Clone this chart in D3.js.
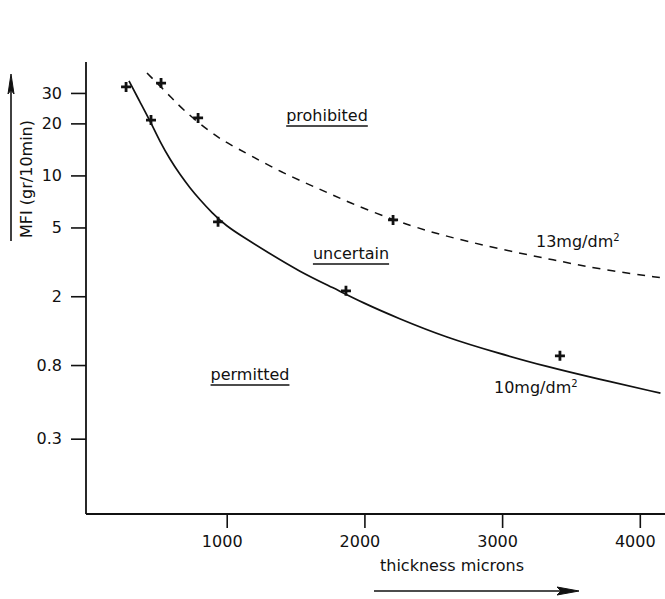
<!DOCTYPE html>
<html>
<head>
<meta charset="utf-8">
<script src="https://cdn.jsdelivr.net/npm/d3@7"></script>
<style>
  html, body { margin: 0; padding: 0; background: #fff; }
  svg { display: block; }
  text { font-family: "DejaVu Sans", sans-serif; fill: #111; }
</style>
</head>
<body>
<script>
// Melt flow index limits versus sheet thickness
const yTicks = [0.3, 0.8, 2, 5, 10, 20, 30];
const yTickLabels = ["0.3", "0.8", "2", "5", "10", "20", "30"];
const xTicks = [1000, 2000, 3000, 4000];
const xTickLabels = ["1000", "2000", "3000", "4000"];

// 10 mg/dm² limit curve (solid)
const limit10Thickness = [290, 370, 443, 516, 588, 661, 733, 806, 893, 995, 1118, 1293, 1532, 1772, 1990, 2237, 2600, 2963, 3326, 3689, 4150];
const limit10MFI = [35.2, 26.6, 20.7, 15.6, 12.4, 10.1, 8.47, 7.22, 6.07, 5.11, 4.41, 3.61, 2.77, 2.24, 1.83, 1.50, 1.15, 0.942, 0.782, 0.667, 0.55];

// 13 mg/dm² limit curve (dashed)
const limit13Thickness = [421, 566, 683, 879, 1002, 1169, 1409, 1656, 1895, 2208, 2455, 2643, 3007, 3370, 3733, 4170];
const limit13MFI = [39.1, 30.0, 23.9, 17.8, 15.4, 13.1, 10.3, 8.47, 6.93, 5.53, 4.78, 4.35, 3.71, 3.25, 2.84, 2.55];

// measured points
const points10Thickness = [269, 450, 937, 1866, 3420];
const points10MFI = [32.5, 20.9, 5.39, 2.15, 0.905];
const points13Thickness = [523, 792, 2208];
const points13MFI = [34.2, 21.5, 5.53];

const W = 665, H = 599;
const plotLeft = 86, plotRight = 665, plotTop = 62, plotBottom = 514;

const svg = d3.select("body").append("svg")
  .attr("width", W).attr("height", H);

const x = d3.scaleLinear().domain([-22, 4183]).range([plotLeft, plotRight]);
const y = d3.scaleLog().domain([0.110, 45.3]).range([plotBottom, plotTop]);

const ink = "#111";

// axes lines
svg.append("line").attr("x1", plotLeft).attr("x2", plotLeft).attr("y1", plotTop).attr("y2", plotBottom)
  .attr("stroke", ink).attr("stroke-width", 1.8);
svg.append("line").attr("x1", plotLeft).attr("x2", plotRight).attr("y1", plotBottom).attr("y2", plotBottom)
  .attr("stroke", ink).attr("stroke-width", 1.8);

// y ticks
const yAxis = d3.axisLeft(y).tickValues(yTicks)
  .tickFormat((d, i) => yTickLabels[i]).tickSize(15).tickPadding(9);
const gy = svg.append("g").attr("transform", `translate(${plotLeft},0)`).call(yAxis);
gy.select(".domain").remove();
gy.selectAll(".tick line").attr("stroke", ink).attr("stroke-width", 1.6);
gy.selectAll(".tick text").attr("font-size", 16).attr("font-family", "DejaVu Sans").attr("fill", ink);

// x ticks
const xAxis = d3.axisBottom(x).tickValues(xTicks)
  .tickFormat((d, i) => xTickLabels[i]).tickSize(14).tickPadding(8);
const gx = svg.append("g").attr("transform", `translate(0,${plotBottom})`).call(xAxis);
gx.select(".domain").remove();
gx.selectAll(".tick line").attr("stroke", ink).attr("stroke-width", 1.6);
gx.selectAll(".tick text").attr("font-size", 16).attr("font-family", "DejaVu Sans").attr("fill", ink).attr("dx", -5);

// curves
const line = d3.line().x(d => x(d[0])).y(d => y(d[1])).curve(d3.curveBasis);
svg.append("path")
  .datum(d3.zip(limit10Thickness, limit10MFI))
  .attr("d", line).attr("fill", "none").attr("stroke", ink).attr("stroke-width", 1.7);
svg.append("path")
  .datum(d3.zip(limit13Thickness, limit13MFI))
  .attr("d", line).attr("fill", "none").attr("stroke", ink).attr("stroke-width", 1.5)
  .attr("stroke-dasharray", "8,7");

// plus markers
function plus(g, xs, ys) {
  const pts = d3.zip(xs, ys);
  const s = 5;
  g.selectAll(null).data(pts).enter().append("path")
    .attr("d", d => {
      const cx = x(d[0]), cy = y(d[1]);
      return `M${cx - s},${cy}H${cx + s}M${cx},${cy - s}V${cy + s}`;
    })
    .attr("stroke", ink).attr("stroke-width", 2.8).attr("fill", "none");
}
plus(svg.append("g"), points10Thickness, points10MFI);
plus(svg.append("g"), points13Thickness, points13MFI);

// region labels, underlined
function underlined(txt, cx, cy) {
  const t = svg.append("text").attr("x", cx).attr("y", cy)
    .attr("text-anchor", "middle").attr("font-size", 16).text(txt);
  const bb = t.node().getBBox();
  svg.append("line").attr("x1", bb.x).attr("x2", bb.x + bb.width)
    .attr("y1", cy + 5).attr("y2", cy + 5).attr("stroke", ink).attr("stroke-width", 1.4);
}
underlined("prohibited", 327, 121);
underlined("uncertain", 351, 259);
underlined("permitted", 250, 380);

// curve labels
function unitLabel(num, xStart, baseline) {
  const t = svg.append("text").attr("x", xStart).attr("y", baseline).attr("font-size", 16);
  t.append("tspan").text(num + "mg/dm");
  t.append("tspan").attr("dy", -6).attr("font-size", 10).text("2");
}
unitLabel("13", 536, 247);
unitLabel("10", 494, 393);

// y axis title with arrow
svg.append("text")
  .attr("transform", "translate(32,179) rotate(-90)")
  .attr("text-anchor", "middle").attr("font-size", 16)
  .text("MFI (gr/10min)");
svg.append("line").attr("x1", 11).attr("x2", 11).attr("y1", 241).attr("y2", 82)
  .attr("stroke", ink).attr("stroke-width", 1.6);
svg.append("path").attr("d", "M11,74 L14,94 L11,90 L8,94 Z").attr("fill", ink).attr("stroke", ink).attr("stroke-width", 1);

// x axis title with arrow
svg.append("text").attr("x", 452).attr("y", 571).attr("text-anchor", "middle")
  .attr("font-size", 16).text("thickness microns");
svg.append("line").attr("x1", 374).attr("x2", 570).attr("y1", 591).attr("y2", 591)
  .attr("stroke", ink).attr("stroke-width", 1.6);
svg.append("path").attr("d", "M579,591 L557,587 L561,591 L557,595 Z").attr("fill", ink).attr("stroke", ink).attr("stroke-width", 1);
</script>
</body>
</html>
